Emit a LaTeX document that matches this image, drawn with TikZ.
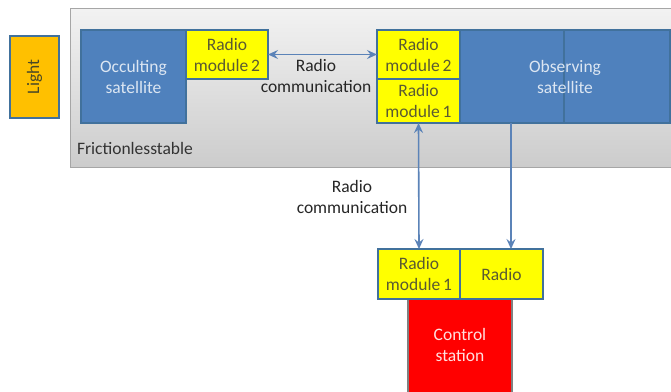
\documentclass[tikz,border=0pt]{standalone}
\usepackage{fontspec}
\setmainfont{Carlito}
\usetikzlibrary{arrows.meta}
\definecolor{satblue}{HTML}{4F81BD}
\definecolor{edgeblue}{HTML}{41719C}
\definecolor{arrblue}{HTML}{5B83B8}
\definecolor{radyel}{HTML}{FFFF00}
\definecolor{lightor}{HTML}{FFC000}
\definecolor{ctrred}{HTML}{FF0000}
\definecolor{ytext}{HTML}{5A5A32}
\definecolor{btext}{HTML}{DCE6F2}
\definecolor{tabedge}{HTML}{A6A6A6}
\begin{document}
\begin{tikzpicture}[x=1pt,y=-1pt,
  every node/.style={font=\fontsize{17.5}{21}\selectfont, inner sep=0pt, outer sep=0pt, align=center},
  boxstyle/.style={draw=edgeblue, line width=1.3pt, anchor=north west},
  satbox/.style={boxstyle, fill=satblue, text=btext},
  radbox/.style={boxstyle, fill=radyel, text=ytext},
  link/.style={draw=arrblue, line width=1.6pt},
  tip/.style={-{Stealth[length=10pt,width=9pt,inset=3.5pt]}},
  tips/.style={{Stealth[length=10pt,width=9pt,inset=3.5pt]}-{Stealth[length=10pt,width=9pt,inset=3.5pt]}}]
\useasboundingbox (0,0) rectangle (671,391);
% table
\shade[top color=gray!10, bottom color=gray!40, draw=tabedge, line width=1pt] (70,8) rectangle (690,167);
\node[anchor=west, text=black!80] (tablelbl) at (77,148) {Frictionlesstable};
% light
\node[boxstyle, fill=lightor, minimum width=49pt, minimum height=82pt] (light) at (10,36) {};
\node[rotate=90, text=ytext!80!black] (lighttxt) at (light.center) {Light};
% occulting satellite
\node[satbox, minimum width=105pt, minimum height=93pt] (occ) at (81,30) {Occulting\\satellite};
\node[radbox, minimum width=82pt, minimum height=49pt] (rmL) at (186,30) {Radio\\module\,2};
% observing satellite
\node[satbox, minimum width=210pt, minimum height=93pt] (obs) at (460,30) {};
\draw[edgeblue, line width=1.3pt] ([xshift=-1pt]obs.north) -- ([xshift=-1pt]obs.south);
\node[text=btext] (obstxt) at (obs.center) {Observing\\satellite};
\node[radbox, minimum width=83pt, minimum height=49pt] (rmR2) at (377,30) {Radio\\module\,2};
\node[radbox, minimum width=83pt, minimum height=44pt] (rmR1) at (377,79) {Radio\\module\,1};
% ground
\node[boxstyle, draw=gray, fill=ctrred, minimum width=104pt, minimum height=100pt] (ctrl) at (408,299) {};
\node[text=white!88!red, anchor=center] (ctrltxt) at (460,345) {Control\\station};
\node[radbox, minimum width=82pt, minimum height=50pt] (grm1) at (378,249) {Radio\\module\,1};
\node[radbox, minimum width=83pt, minimum height=50pt] (grad) at (460,249) {Radio};
% links
\draw[link, tips] (rmL.east) -- (rmR2.west);
\node[text=black!85] (lbl1) at (316,76) {Radio\\communication};
\draw[link, tips] (rmR1.south) -- (grm1.north);
\draw[link, tip] ([xshift=-54pt]obs.south) -- ([xshift=9.5pt]grad.north);
\node[text=black!85] (lbl2) at (352,197) {Radio\\communication};
\end{tikzpicture}
\end{document}
